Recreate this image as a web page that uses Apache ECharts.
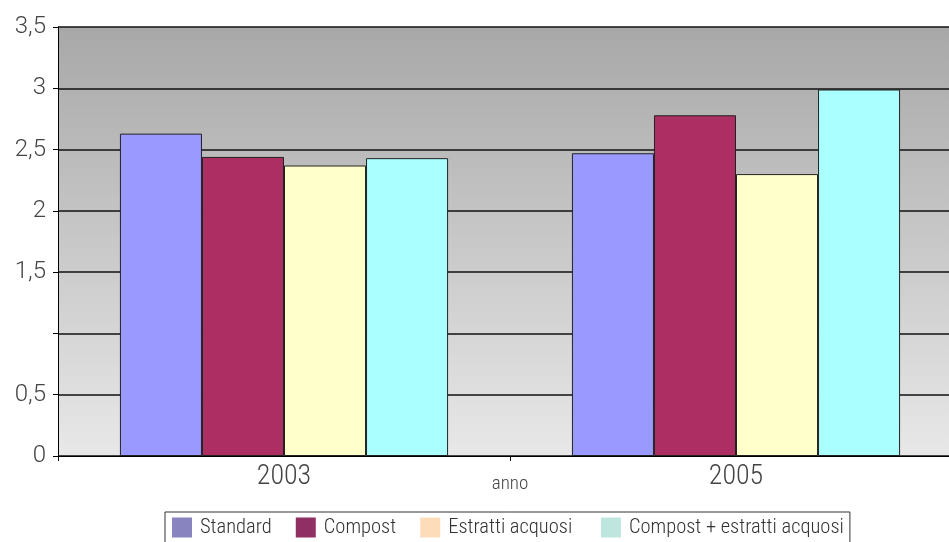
<!DOCTYPE html>
<html><head><meta charset="utf-8">
<script src="https://cdn.jsdelivr.net/npm/echarts@6/dist/echarts.min.js"></script>
<style>html,body{margin:0;padding:0;background:#fff;overflow:hidden;}#c{width:962px;height:542px;}</style>
</head><body><div id="c"></div>
<script>
const categories = ['2003', '2005'];
const seriesNames = ['Standard', 'Compost', 'Estratti acquosi', 'Compost + estratti acquosi'];
const standard = [2.63, 2.47];
const compost = [2.44, 2.78];
const estratti = [2.37, 2.30];
const compostEstratti = [2.43, 2.99];
const barColors = ['#9999FF', '#AD2E62', '#FFFFCC', '#AAFFFF'];
const legendColors = ['#8884BF', '#8F2F64', '#FDDCBA', '#BFE5DF'];
const values = [standard, compost, estratti, compostEstratti];

const chart = echarts.init(document.getElementById('c'));
const cond = '"Roboto Condensed", "Liberation Sans Narrow", sans-serif';
const sans = 'Roboto, "Liberation Sans", sans-serif';
chart.setOption({
  animation: false,
  textStyle: { fontFamily: sans },
  grid: {
    left: 58, top: 27, right: 0, bottom: 86, containLabel: false,
    show: true, borderWidth: 0,
    backgroundColor: {
      type: 'linear', x: 0, y: 0, x2: 0, y2: 1,
      colorStops: [{ offset: 0, color: '#A8A8A8' }, { offset: 1, color: '#E8E8E8' }]
    }
  },
  legend: {
    bottom: -8, left: 165,
    itemWidth: 20, itemHeight: 20, itemGap: 24,
    borderColor: '#333', borderWidth: 1,
    padding: [5, 6, 12, 7],
    icon: 'rect',
    textStyle: { fontFamily: cond, fontWeight: 300, fontSize: 20.5, color: '#333', padding: [0, 0, 0, 3] },
    formatter: function (n) { return n === 'Estratti acquosi' ? n + ' ' : n; },
    data: seriesNames.map((n, i) => ({ name: n, itemStyle: { color: legendColors[i], borderWidth: 0 } }))
  },
  xAxis: {
    type: 'category', data: categories,
    name: 'anno', nameLocation: 'middle', nameGap: 19, nameMoveOverlap: false,
    nameTextStyle: { fontFamily: cond, fontWeight: 300, fontSize: 19, color: '#444' },
    axisLine: { lineStyle: { color: '#000', width: 1 } },
    axisTick: { show: true, length: 5, lineStyle: { color: '#000' } },
    axisLabel: { fontFamily: cond, fontWeight: 300, fontSize: 28, color: '#444', margin: 7 }
  },
  yAxis: {
    type: 'value', min: 0, max: 3.5, interval: 0.5,
    axisLine: { show: true, lineStyle: { color: '#000', width: 1 } },
    axisTick: { show: true, length: 5, lineStyle: { color: '#000' } },
    axisLabel: {
      fontFamily: sans, fontWeight: 300, fontSize: 24, color: '#444', margin: 12,
      formatter: function (v) { return v === 1 ? '' : String(v).replace('.', ','); }
    },
    splitLine: { show: true, lineStyle: { color: '#111', width: 1.5 } }
  },
  series: seriesNames.map((n, i) => ({
    name: n, type: 'bar', data: values[i],
    barGap: '0%', barCategoryGap: '27.4%',
    itemStyle: { color: barColors[i], borderColor: '#222', borderWidth: 1 }
  }))
});
</script></body></html>
